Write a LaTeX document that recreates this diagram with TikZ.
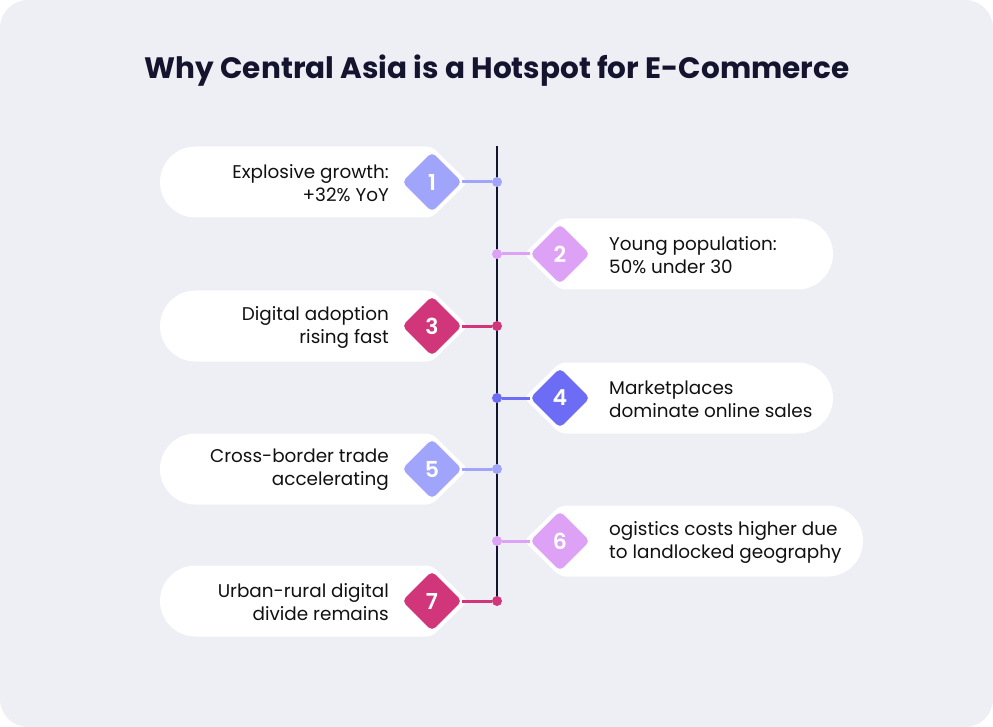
\documentclass[tikz,border=0pt]{standalone}
\usepackage{fontspec}
\setmainfont{Poppins}
\newfontfamily\semib{Poppins SemiBold}
\usetikzlibrary{shapes.geometric}
\definecolor{bg}{HTML}{EEEFF5}
\definecolor{navy}{HTML}{14142E}
\definecolor{txt}{HTML}{111111}
\definecolor{cA}{HTML}{A0A4FA}
\definecolor{cB}{HTML}{DDA2F6}
\definecolor{cC}{HTML}{D1357A}
\definecolor{cD}{HTML}{6C6DF4}
\tikzset{
  numbox/.style={diamond, fill=#1, draw=none, minimum size=60pt, inner sep=0pt, rounded corners=5pt,
    text=white, font=\semib\fontsize{22}{24}\selectfont},
  dotnode/.style={circle, fill=#1, minimum size=10pt, inner sep=0pt},
  link/.style={draw=#1, line width=3pt},
  cardtxt/.style={text=txt, font=\fontsize{18.4}{23}\selectfont, inner sep=0pt},
}
\newcommand{\leftcard}[1]{% y center
  \fill[white] (300,#1-35.5) {[rounded corners=6pt] -- (432,#1-35.5) -- (468,#1) -- (432,#1+35.5)} -- (195.5,#1+35.5)
    arc[start angle=270, end angle=90, radius=35.5pt] -- cycle;}
\newcommand{\rightcard}[2]{% y center, right end
  \fill[white] (700,#1-35.5) {[rounded corners=6pt] -- (560,#1-35.5) -- (524,#1) -- (560,#1+35.5)} -- (#2-35.5,#1+35.5)
    arc[start angle=-90, end angle=90, radius=35.5pt] -- cycle;}
\begin{document}
\begin{tikzpicture}[x=1pt,y=-1pt]
\useasboundingbox (0,0) rectangle (993,727);
\fill[white] (0,0) rectangle (993,727);
\fill[bg, rounded corners=28pt] (0,0) rectangle (993,727);
\node[text=navy, font=\bfseries\fontsize{29.5}{33}\selectfont] (title) at (497,71) {Why Central Asia is a Hotspot for E-Commerce};
% timeline
\coordinate (ttop) at (497,146);
\coordinate (tbot) at (497,601);
\draw[navy, line width=2.2pt] (ttop) -- (tbot);
% cards
\leftcard{182}
\rightcard{254}{833}
\leftcard{326}
\rightcard{398}{833}
\leftcard{469}
\rightcard{541}{863}
\leftcard{601}
% row 1
\node[numbox=cA] (n1) at (432,182) {1};
\node[dotnode=cA] (d1) at (497,182) {};
\draw[link=cA] (n1) -- (d1);
\node[cardtxt, anchor=east, align=right] (t1) at (389,183) {Explosive growth:\\+32\% YoY};
% row 2
\node[numbox=cB] (n2) at (560,254) {2};
\node[dotnode=cB] (d2) at (497,254) {};
\draw[link=cB] (n2) -- (d2);
\node[cardtxt, anchor=west, align=left] (t2) at (609,255) {Young population:\\50\% under 30};
% row 3
\node[numbox=cC] (n3) at (432,326) {3};
\node[dotnode=cC] (d3) at (497,326) {};
\draw[link=cC] (n3) -- (d3);
\node[cardtxt, anchor=east, align=right] (t3) at (389,327) {Digital adoption\\rising fast};
% row 4
\node[numbox=cD] (n4) at (560,398) {4};
\node[dotnode=cD] (d4) at (497,398) {};
\draw[link=cD] (n4) -- (d4);
\node[cardtxt, anchor=west, align=left] (t4) at (609,399) {Marketplaces\\dominate online sales};
% row 5
\node[numbox=cA] (n5) at (432,469) {5};
\node[dotnode=cA] (d5) at (497,469) {};
\draw[link=cA] (n5) -- (d5);
\node[cardtxt, anchor=east, align=right] (t5) at (389,470) {Cross-border trade\\accelerating};
% row 6
\node[numbox=cB] (n6) at (560,541) {6};
\node[dotnode=cB] (d6) at (497,541) {};
\draw[link=cB] (n6) -- (d6);
\node[cardtxt, anchor=west, align=left] (t6) at (609,542) {ogistics costs higher due\\to landlocked geography};
% row 7
\node[numbox=cC] (n7) at (432,601) {7};
\node[dotnode=cC] (d7) at (497,601) {};
\draw[link=cC] (n7) -- (d7);
\node[cardtxt, anchor=east, align=right] (t7) at (389,602) {Urban-rural digital\\divide remains};
\end{tikzpicture}
\end{document}
